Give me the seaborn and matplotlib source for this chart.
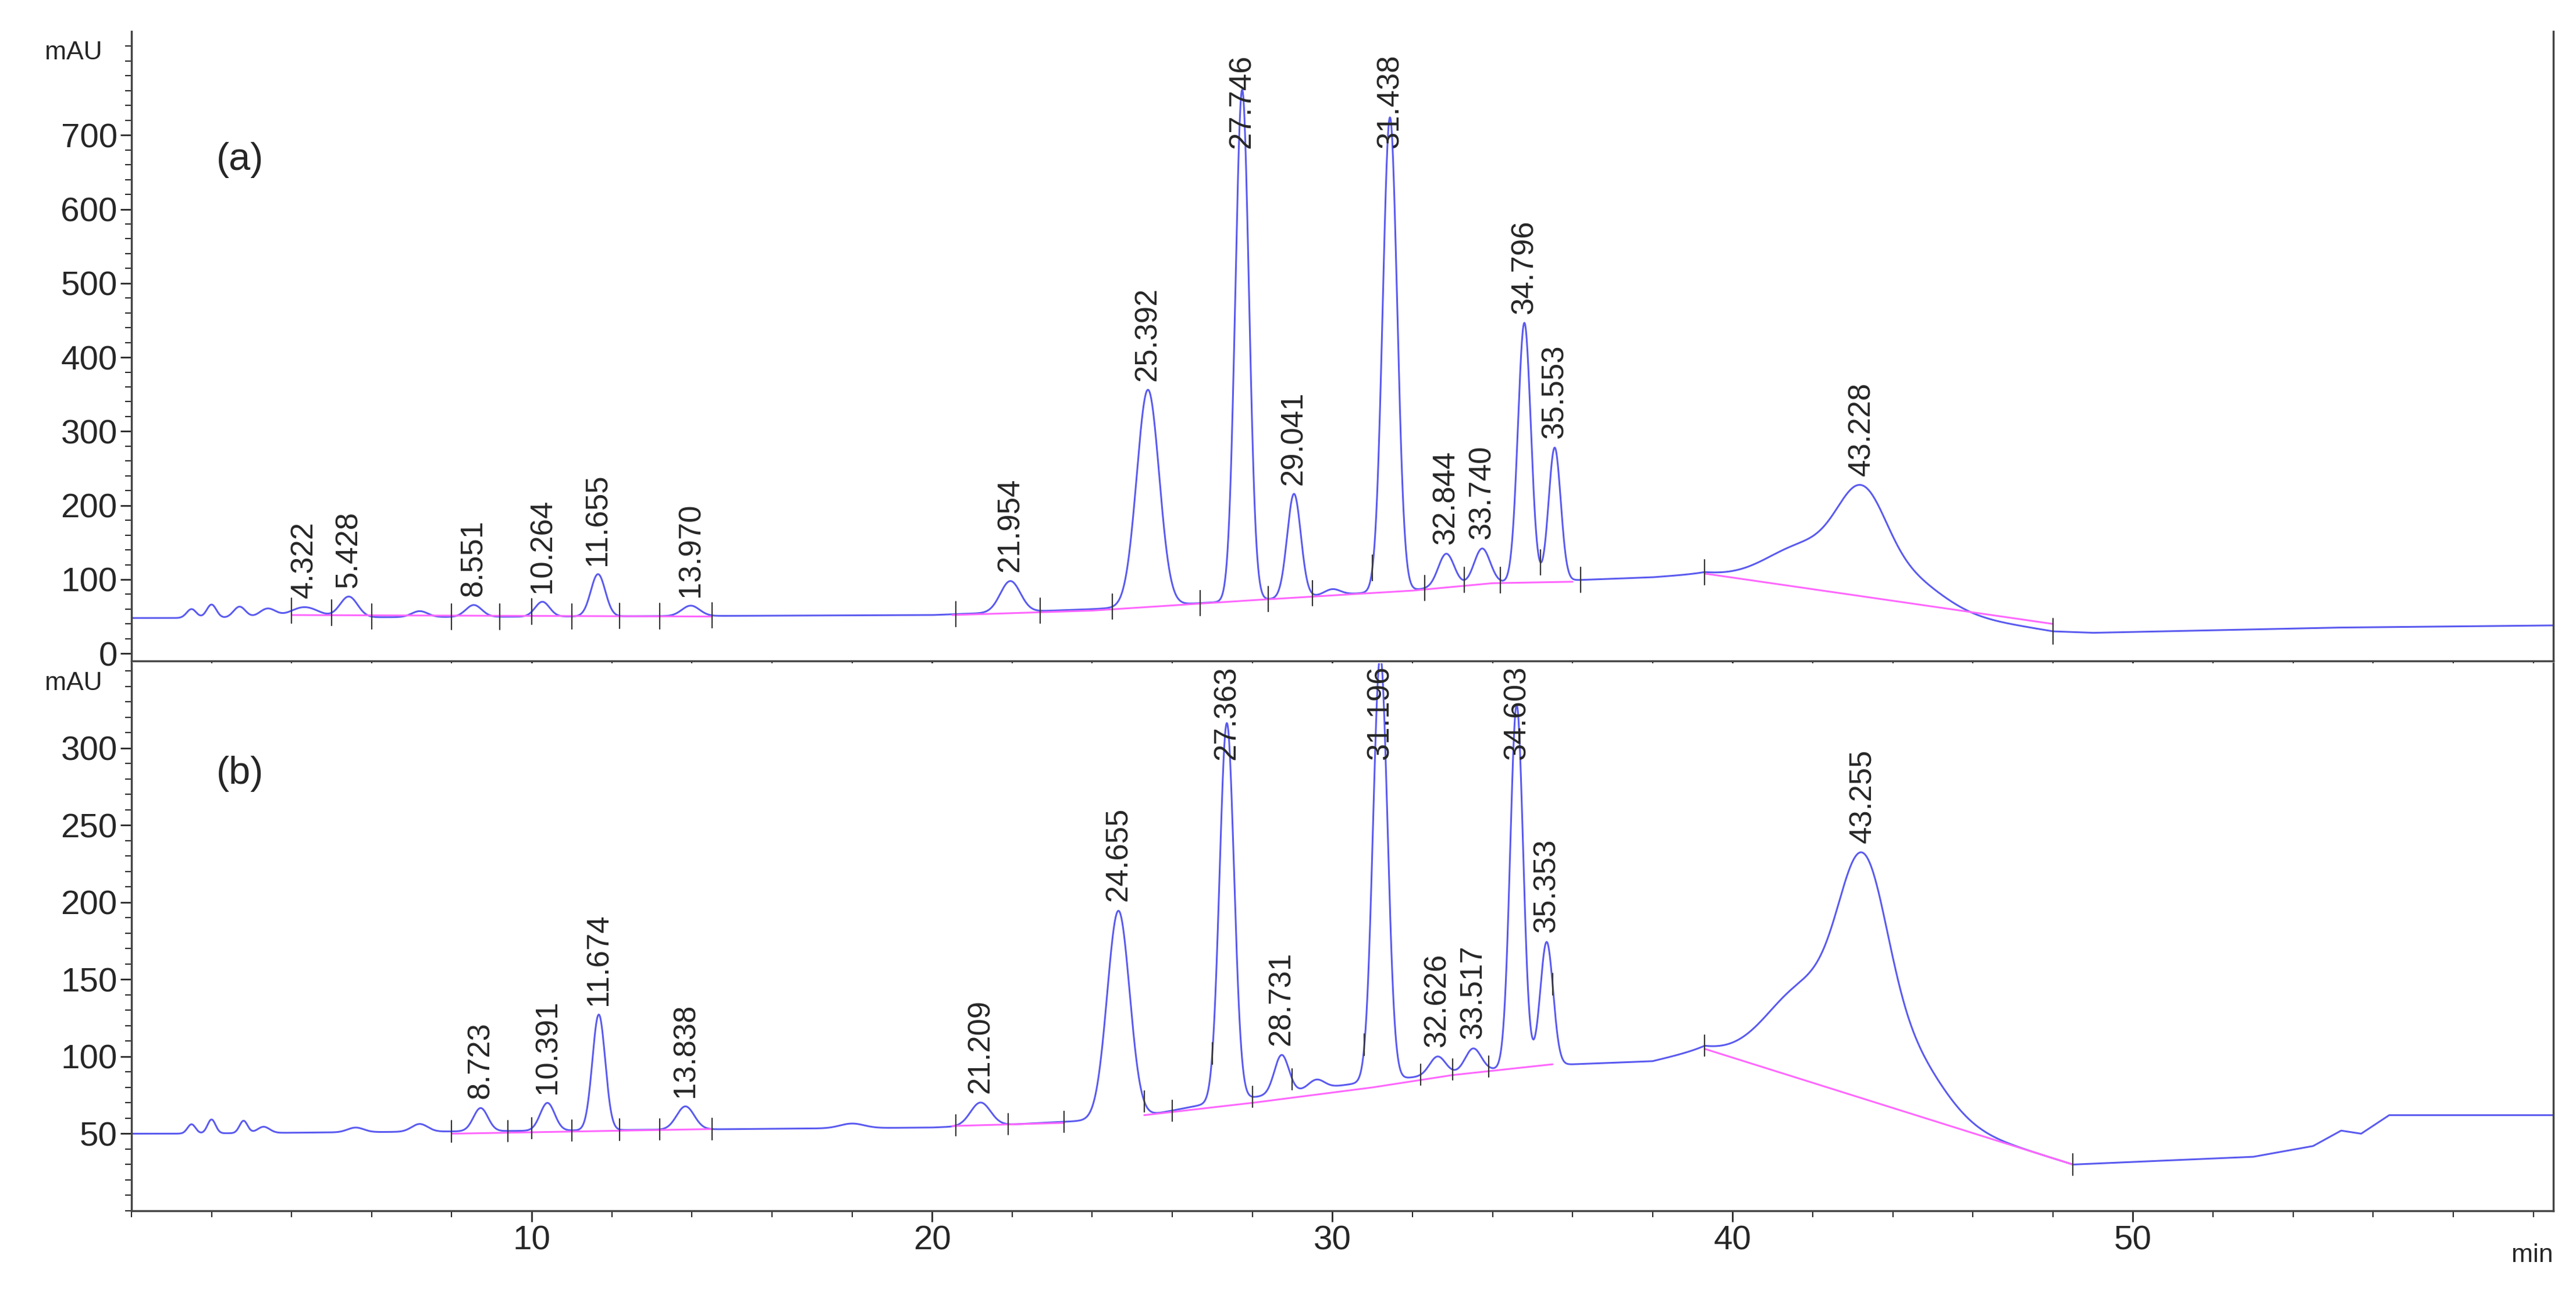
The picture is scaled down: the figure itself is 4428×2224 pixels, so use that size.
import matplotlib.pyplot as plt
import seaborn as sns
import pandas as pd
import numpy as np

# ---- panel (a) data ----
base_a_t = [0, 1.2, 20, 24, 28, 32, 34, 36, 38, 39.3, 48, 49, 55, 60.5]
base_a_y = [48, 48, 52, 60, 72, 86, 95, 99, 103, 108, 30, 28, 35, 38]
peaks_a_t = [1.5, 2.0, 2.7, 3.4, 4.322, 5.428, 7.2, 8.551, 10.264, 11.655, 13.970,
             21.954, 25.392, 27.746, 29.041, 30.0, 31.438, 32.844, 33.740, 34.796, 35.553,
             41.9, 43.228, 44.3]
peaks_a_h = [12, 18, 15, 12, 14, 28, 8, 16, 20, 57, 14,
             42, 292, 690, 140, 8, 640, 45, 48, 350, 180,
             60, 110, 40]
peaks_a_w = [0.12, 0.12, 0.15, 0.2, 0.35, 0.22, 0.2, 0.2, 0.18, 0.18, 0.22,
             0.25, 0.28, 0.17, 0.17, 0.2, 0.18, 0.2, 0.2, 0.16, 0.15,
             1.0, 0.6, 0.9]
labels_a = ["4.322", "5.428", "8.551", "10.264", "11.655", "13.970", "21.954", "25.392",
            "27.746", "29.041", "31.438", "32.844", "33.740", "34.796", "35.553", "43.228"]
magenta_a = [([4.0, 14.5], [52, 50]),
             ([20.5, 24, 28, 32, 34, 36], [52, 58, 72, 85, 95, 97]),
             ([39.3, 48], [108, 40])]
marks_a = [4.0, 5.0, 6.0, 8.0, 9.2, 10.0, 11.0, 12.2, 13.2, 14.5, 20.6, 22.7, 24.5,
           26.7, 28.4, 29.5, 31.0, 32.3, 33.3, 34.2, 35.2, 36.2, 39.3, 48.0]

# ---- panel (b) data ----
base_b_t = [0, 1.0, 20, 22, 25, 27, 31, 35, 38, 39.3, 48.5, 53, 54.5, 55.2, 55.7, 56.4, 60.5]
base_b_y = [50, 50, 54, 56, 60, 70, 84, 94, 97, 105, 30, 35, 42, 52, 50, 62, 62]
peaks_b_t = [1.5, 2.0, 2.8, 3.3, 5.6, 7.2, 8.723, 10.391, 11.674, 13.838, 18.0, 21.209,
             24.655, 27.363, 28.731, 29.6, 31.196, 32.626, 33.517, 34.603, 35.353,
             41.9, 43.255, 44.3]
peaks_b_h = [6, 9, 8, 4, 3, 5, 15, 18, 75, 15, 3, 15,
             135, 245, 25, 6, 275, 12, 15, 235, 80,
             60, 115, 40]
peaks_b_w = [0.1, 0.1, 0.1, 0.15, 0.2, 0.2, 0.18, 0.18, 0.16, 0.22, 0.3, 0.25,
             0.28, 0.18, 0.18, 0.2, 0.18, 0.2, 0.2, 0.16, 0.16,
             1.0, 0.6, 0.9]
labels_b = ["8.723", "10.391", "11.674", "13.838", "21.209", "24.655", "27.363", "28.731",
            "31.196", "32.626", "33.517", "34.603", "35.353", "43.255"]
magenta_b = [([8.0, 14.5], [50, 53]),
             ([20.5, 23.3], [55, 57]),
             ([25.3, 28, 31, 33, 35.5], [62, 70, 80, 88, 95]),
             ([39.3, 48.5], [105, 30])]
marks_b = [8.0, 9.4, 10.0, 11.0, 12.2, 13.2, 14.5, 20.6, 21.9, 23.3, 25.3, 26.0,
           27.0, 28.0, 29.0, 30.8, 32.2, 33.0, 33.9, 35.5, 39.3, 48.5]

BLUE = "#5a5af0"
PINK = "#ff66ff"


def build_trace(bt, by, pt, ph, pw):
    t = np.linspace(0, 60.5, 6000)
    y = np.interp(t, bt, by)
    for c, h, w in zip(pt, ph, pw):
        y = y + h * np.exp(-0.5 * ((t - c) / w) ** 2)
    return pd.DataFrame({"t": t, "y": y})


def draw_panel(ax, df, labels, magenta, marks, ylim, yticks, minor, tag, label_off):
    sns.lineplot(data=df, x="t", y="y", ax=ax, color=BLUE, linewidth=2.2, estimator=None)
    for xs, ys in magenta:
        ax.plot(xs, ys, color=PINK, linewidth=2.2)
    for m in marks:
        yv = np.interp(m, df["t"], df["y"])
        ax.plot([m, m], [yv - 0.02 * (ylim[1] - ylim[0]), yv + 0.02 * (ylim[1] - ylim[0])],
                color="#333333", linewidth=1.6)
    for lab in labels:
        x0 = float(lab)
        yv = df["y"][(df["t"] > x0 - 0.3) & (df["t"] < x0 + 0.3)].max()
        yv = min(yv, ylim[1] - 0.2 * (ylim[1] - ylim[0]))
        ax.text(x0, yv + label_off, lab, rotation=90, ha="center", va="bottom", fontsize=38)
    ax.set_xlim(0, 60.5)
    ax.set_ylim(*ylim)
    ax.set_yticks(yticks)
    ax.set_yticks(np.arange(0, ylim[1], minor), minor=True)
    ax.set_xticks(np.arange(0, 61, 2), minor=True)
    ax.tick_params(axis="y", which="major", labelsize=42, length=14, width=2)
    ax.tick_params(axis="y", which="minor", length=8, width=1.5)
    ax.tick_params(axis="x", which="major", length=14, width=2, labelsize=42)
    ax.tick_params(axis="x", which="minor", length=8, width=1.5)
    ax.text(-0.012, 0.985, "mAU", transform=ax.transAxes, ha="right", va="top", fontsize=32)
    ax.text(0.035, 0.78, tag, transform=ax.transAxes, fontsize=48)
    ax.set_xlabel("")
    ax.set_ylabel("")
    ax.spines["top"].set_visible(False)
    for s in ["left", "bottom", "right"]:
        ax.spines[s].set_linewidth(2.5)
        ax.spines[s].set_color("#444444")


sns.set_theme(style="ticks")
plt.rcParams["font.family"] = ["Liberation Sans", "DejaVu Sans"]

fig = plt.figure(figsize=(44.28, 22.24), dpi=100)
ax_a = fig.add_axes([226 / 4428, 1 - 1136 / 2224, (4389 - 226) / 4428, (1136 - 54) / 2224])
ax_b = fig.add_axes([226 / 4428, 1 - 2081 / 2224, (4389 - 226) / 4428, (2081 - 1140) / 2224])

df_a = build_trace(base_a_t, base_a_y, peaks_a_t, peaks_a_h, peaks_a_w)
df_b = build_trace(base_b_t, base_b_y, peaks_b_t, peaks_b_h, peaks_b_w)

draw_panel(ax_a, df_a, labels_a, magenta_a, marks_a, (-10, 840),
           [0, 100, 200, 300, 400, 500, 600, 700], 20, "(a)", 12)
draw_panel(ax_b, df_b, labels_b, magenta_b, marks_b, (12, 355),
           [50, 100, 150, 200, 250, 300], 10, "(b)", 6)

ax_a.set_xticks([10, 20, 30, 40, 50])
ax_a.set_xticklabels([])
ax_b.set_xticks([10, 20, 30, 40, 50])
ax_b.text(1.0, -0.06, "min", transform=ax_b.transAxes, ha="right", va="top", fontsize=32)

fig.savefig("out.png", dpi=100)
